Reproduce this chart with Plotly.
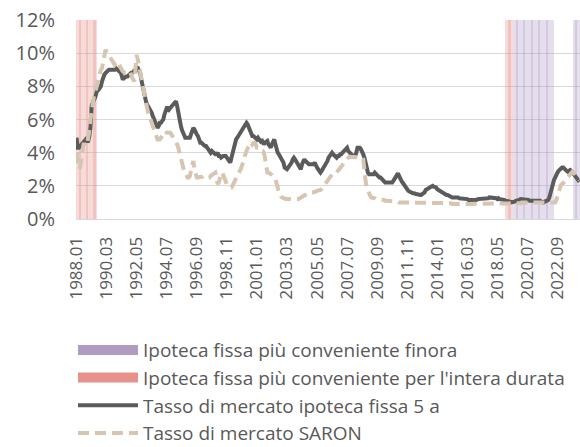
import plotly.graph_objects as go

# ---------------- data ----------------
start_year = 1988
n_months = 436  # 1988.01 .. 2024.04
months = [f"{start_year + i // 12}.{i % 12 + 1:02d}" for i in range(n_months)]

# 5-year fixed mortgage market rate (%), monthly
mortgage_5y = [
    4.9, 4.3, 4.3, 4.4, 4.5, 4.6, 4.7, 4.8, 4.8, 4.7, 4.7, 5.0,      # 1988
    5.5, 6.8, 7.1, 7.2, 7.3, 7.5, 7.8, 7.8, 7.9, 8.0, 8.3, 8.6,      # 1989
    8.7, 8.8, 8.9, 9.0, 9.0, 9.0, 9.0, 9.0, 9.0, 9.0, 9.1, 9.0,      # 1990
    9.0, 8.9, 8.9, 8.5, 8.4, 8.5, 8.6, 8.6, 8.6, 8.7, 8.7, 8.8,      # 1991
    8.8, 8.9, 8.9, 9.0, 9.1, 9.1, 9.0, 8.8, 8.4, 8.0, 7.6, 7.3,      # 1992
    7.1, 6.9, 6.8, 6.6, 6.5, 6.4, 6.2, 6.0, 5.8, 5.6, 5.5, 5.6,      # 1993
    5.8, 5.8, 5.9, 6.0, 6.3, 6.5, 6.7, 6.7, 6.6, 6.7, 6.8, 6.9,      # 1994
    7.0, 7.0, 7.1, 6.8, 6.3, 6.0, 5.7, 5.4, 5.2, 5.0, 4.9, 4.9,      # 1995
    4.9, 4.9, 4.9, 5.1, 5.3, 5.5, 5.4, 5.2, 5.1, 5.0, 4.8, 4.6,      # 1996
    4.6, 4.5, 4.5, 4.4, 4.4, 4.3, 4.2, 4.0, 4.0, 4.1, 4.0, 3.9,      # 1997
    3.9, 3.9, 4.0, 3.8, 3.8, 3.7, 3.8, 3.8, 3.8, 3.8, 3.7, 3.6,      # 1998
    3.5, 3.4, 3.7, 4.0, 4.3, 4.6, 4.8, 4.9, 5.0, 5.2, 5.2, 5.4,      # 1999
    5.5, 5.6, 5.7, 5.8, 5.7, 5.5, 5.3, 5.1, 5.0, 5.0, 4.9, 4.9,      # 2000
    4.8, 4.9, 4.8, 4.7, 4.8, 4.6, 4.5, 4.6, 4.7, 4.7, 4.5, 4.4,      # 2001
    4.3, 4.5, 4.7, 4.8, 4.5, 4.2, 4.0, 3.9, 3.8, 3.7, 3.6, 3.4,      # 2002
    3.1, 3.0, 3.0, 3.1, 3.2, 3.2, 3.4, 3.6, 3.7, 3.6, 3.5, 3.4,      # 2003
    3.2, 3.1, 3.0, 3.3, 3.5, 3.6, 3.5, 3.4, 3.4, 3.3, 3.3, 3.3,      # 2004
    3.3, 3.3, 3.4, 3.2, 3.1, 3.0, 2.9, 2.8, 2.9, 3.0, 3.1, 3.2,      # 2005
    3.4, 3.5, 3.7, 3.8, 3.9, 4.0, 3.9, 3.8, 3.8, 3.7, 3.8, 3.8,      # 2006
    3.9, 3.9, 4.0, 4.1, 4.2, 4.3, 4.3, 4.1, 4.0, 3.9, 3.9, 3.8,      # 2007
    3.8, 3.8, 4.0, 4.3, 4.3, 4.3, 4.2, 4.1, 3.9, 3.7, 3.3, 3.0,      # 2008
    2.8, 2.7, 2.7, 2.65, 2.7, 2.7, 2.8, 2.7, 2.7, 2.6, 2.5, 2.5,     # 2009
    2.4, 2.4, 2.3, 2.2, 2.2, 2.2, 2.2, 2.15, 2.2, 2.2, 2.3, 2.4,     # 2010
    2.6, 2.7, 2.75, 2.6, 2.4, 2.3, 2.2, 2.1, 1.9, 1.8, 1.75, 1.7,   # 2011
    1.65, 1.6, 1.6, 1.55, 1.55, 1.5, 1.5, 1.5, 1.45, 1.45, 1.45, 1.5,  # 2012
    1.55, 1.6, 1.75, 1.8, 1.85, 1.9, 1.95, 2.0, 2.0, 1.95, 1.95, 1.9,  # 2013
    1.8, 1.75, 1.7, 1.65, 1.6, 1.55, 1.5, 1.5, 1.45, 1.45, 1.4, 1.4,   # 2014
    1.35, 1.3, 1.3, 1.3, 1.3, 1.35, 1.3, 1.25, 1.25, 1.2, 1.2, 1.2,    # 2015
    1.2, 1.2, 1.2, 1.15, 1.15, 1.15, 1.1, 1.1, 1.1, 1.1, 1.15, 1.2,    # 2016
    1.2, 1.2, 1.2, 1.2, 1.25, 1.2, 1.2, 1.25, 1.25, 1.3, 1.3, 1.25,    # 2017
    1.3, 1.3, 1.25, 1.25, 1.2, 1.25, 1.2, 1.2, 1.2, 1.15, 1.15, 1.1,   # 2018
    1.1, 1.1, 1.05, 1.05, 1.0, 1.0, 1.0, 1.05, 1.1, 1.1, 1.15, 1.15,   # 2019
    1.2, 1.2, 1.2, 1.15, 1.2, 1.2, 1.15, 1.15, 1.1, 1.1, 1.15, 1.15,   # 2020
    1.15, 1.15, 1.15, 1.1, 1.1, 1.1, 1.05, 1.0, 1.0, 1.05, 1.1, 1.1,   # 2021
    1.15, 1.3, 1.6, 1.9, 2.2, 2.35, 2.5, 2.7, 2.8, 2.9, 3.0, 3.05,     # 2022
    3.1, 3.1, 3.0, 2.9, 2.9, 2.85, 2.9, 2.95, 2.9, 2.8, 2.65, 2.55,    # 2023
    2.45, 2.4, 2.3, 2.25,                                              # 2024
]

# SARON mortgage market rate (%), monthly
saron = [
    4.0, 3.2, 3.0, 3.1, 3.5, 4.0, 4.5, 4.5, 4.4, 4.5, 4.8, 5.3,      # 1988
    6.0, 6.6, 7.2, 7.4, 7.6, 7.9, 8.2, 8.5, 8.9, 9.0, 9.1, 9.5,      # 1989
    10.0, 10.2, 10.1, 10.0, 9.9, 9.8, 9.7, 9.6, 9.4, 9.3, 9.4, 9.5,  # 1990
    9.5, 9.3, 9.1, 9.0, 8.9, 8.8, 8.8, 8.8, 8.9, 8.9, 8.9, 8.7,      # 1991
    8.6, 8.4, 8.3, 9.2, 9.9, 9.6, 9.2, 8.8, 8.4, 8.1, 7.8, 7.4,      # 1992
    7.1, 6.7, 6.4, 6.2, 6.0, 5.8, 5.6, 5.5, 5.3, 5.0, 4.8, 4.8,      # 1993
    4.8, 4.9, 5.0, 5.2, 5.2, 5.3, 5.2, 5.2, 5.2, 5.2, 5.1, 5.0,      # 1994
    4.9, 4.8, 4.6, 4.5, 4.3, 4.0, 3.7, 3.4, 3.1, 2.9, 2.8, 2.6,      # 1995
    2.5, 2.5, 2.6, 2.9, 3.3, 3.5, 3.0, 2.7, 2.5, 2.5, 2.5, 2.5,      # 1996
    2.5, 2.55, 2.6, 2.55, 2.5, 2.5, 2.5, 2.5, 2.6, 2.65, 2.7, 2.75,  # 1997
    2.8, 2.5, 2.1, 2.2, 2.5, 2.7, 2.8, 2.6, 2.4, 2.2, 2.1, 2.0,      # 1998
    1.9, 1.9, 1.9, 2.0, 2.2, 2.3, 2.5, 2.6, 2.7, 2.8, 3.0, 3.2,      # 1999
    3.5, 3.7, 3.9, 4.1, 4.3, 4.5, 4.6, 4.6, 4.5, 4.6, 4.6, 4.5,      # 2000
    4.3, 4.3, 4.2, 4.2, 4.1, 4.1, 4.0, 3.7, 3.2, 2.8, 2.8, 2.7,      # 2001
    2.7, 2.65, 2.6, 2.5, 2.4, 2.2, 1.9, 1.6, 1.45, 1.35, 1.3, 1.25,  # 2002
    1.25, 1.2, 1.2, 1.2, 1.2, 1.15, 1.15, 1.15, 1.15, 1.15, 1.2, 1.2,  # 2003
    1.2, 1.25, 1.3, 1.35, 1.4, 1.45, 1.45, 1.5, 1.5, 1.55, 1.55, 1.6,  # 2004
    1.6, 1.6, 1.65, 1.65, 1.7, 1.7, 1.75, 1.75, 1.8, 1.9, 2.05, 2.2,   # 2005
    2.3, 2.4, 2.5, 2.6, 2.7, 2.75, 2.8, 2.8, 2.8, 2.8, 2.9, 3.0,       # 2006
    3.1, 3.2, 3.25, 3.35, 3.45, 3.6, 3.7, 3.7, 3.75, 3.75, 3.75, 3.75, # 2007
    3.75, 3.75, 3.75, 3.75, 3.75, 3.75, 3.7, 3.7, 3.6, 2.8, 2.3, 1.9,  # 2008
    1.7, 1.5, 1.4, 1.3, 1.3, 1.25, 1.25, 1.2, 1.2, 1.2, 1.2, 1.2,      # 2009
    1.15, 1.15, 1.15, 1.1, 1.1, 1.1, 1.1, 1.1, 1.1, 1.1, 1.1, 1.05,    # 2010
    1.05, 1.05, 1.05, 1.0, 1.0, 1.0, 1.0, 1.0, 0.95, 0.95, 0.95, 0.95, # 2011
    0.95, 1.0, 1.0, 1.0, 0.95, 0.95, 0.95, 0.95, 0.95, 0.95, 0.95, 0.95,  # 2012
    0.95, 0.95, 0.95, 1.0, 1.0, 1.0, 1.0, 0.95, 0.95, 0.95, 0.95, 0.95,   # 2013
    1.0, 1.0, 0.95, 0.95, 0.95, 0.95, 0.95, 0.95, 0.95, 0.95, 0.95, 0.95, # 2014
    0.95, 0.9, 0.9, 0.9, 0.9, 0.9, 0.9, 0.9, 0.9, 0.9, 0.9, 0.9,          # 2015
    0.9, 0.9, 0.9, 0.9, 0.9, 0.9, 0.9, 0.9, 0.9, 0.9, 0.9, 0.9,           # 2016
    0.9, 0.9, 0.9, 0.9, 0.9, 0.9, 0.9, 0.9, 0.9, 0.9, 0.9, 0.9,           # 2017
    0.9, 0.9, 0.9, 0.9, 0.9, 0.9, 0.9, 0.9, 0.9, 0.9, 0.9, 0.9,           # 2018
    0.9, 0.9, 0.9, 0.9, 0.9, 0.9, 0.95, 0.95, 0.95, 0.95, 0.95, 0.95,     # 2019
    0.95, 1.0, 1.0, 1.0, 1.0, 0.95, 0.95, 0.95, 0.95, 0.95, 0.95, 0.95,   # 2020
    1.0, 1.0, 1.0, 1.0, 0.95, 0.95, 0.95, 0.95, 0.95, 0.95, 0.95, 0.95,   # 2021
    0.95, 0.95, 0.95, 0.95, 0.95, 0.95, 1.0, 1.15, 1.4, 1.6, 1.9, 2.05,   # 2022
    2.1, 2.15, 2.25, 2.35, 2.45, 2.55, 2.65, 2.75, 2.8, 2.85, 2.8, 2.7,   # 2023
    2.6, 2.5, 2.4, 2.35,                                                  # 2024
]

# periods (first month, last month) where the fixed mortgage was cheaper
periods_whole_term = [("1988.01", "1989.06"), ("2018.12", "2019.06")]
periods_so_far = [("2019.07", "2022.05"), ("2023.11", "2024.04")]

x_tick_labels = months[::26]
y_tick_values = [0, 2, 4, 6, 8, 10, 12]
y_tick_labels = ["0%", "2%", "4%", "6%", "8%", "10%", "12%"]

names = [
    "Ipoteca fissa più conveniente finora",
    "Ipoteca fissa più conveniente per l'intera durata",
    "Tasso di mercato ipoteca fissa 5 a",
    "Tasso di mercato SARON",
]

# ---------------- build ----------------
def flag_series(periods, level=12):
    out = [None] * len(months)
    for a, b in periods:
        ia, ib = months.index(a), months.index(b)
        for k in range(ia, ib + 1):
            out[k] = level
    return out

TXT = "#595959"
FONT = "Open Sans"
PURPLE = "rgb(176,156,192)"
PINK = "rgb(230,146,139)"

fig = go.Figure()
fig.add_trace(go.Bar(
    x=months, y=flag_series(periods_so_far), name=names[0],
    marker=dict(color="rgba(176,156,196,0.33)", line=dict(width=0)),
    width=1.3, showlegend=False,
))
fig.add_trace(go.Bar(
    x=months, y=flag_series(periods_whole_term), name=names[1],
    marker=dict(color="rgba(232,146,140,0.33)", line=dict(width=0)),
    width=1.3, showlegend=False,
))
# legend keys for the shaded periods
fig.add_trace(go.Scatter(
    x=[months[0]], y=[None], name=names[0], mode="lines",
    line=dict(color=PURPLE, width=10), legendgroup="a",
))
fig.add_trace(go.Scatter(
    x=[months[0]], y=[None], name=names[1], mode="lines",
    line=dict(color=PINK, width=10), legendgroup="b",
))
fig.add_trace(go.Scatter(
    x=months, y=mortgage_5y, name=names[2], mode="lines",
    line=dict(color="#5B5B5B", width=4), legendgroup="c",
))
fig.add_trace(go.Scatter(
    x=months, y=saron, name=names[3], mode="lines",
    line=dict(color="#D5C5B1", width=4, dash="11px,6px"), legendgroup="d",
))

fig.update_layout(
    width=580, height=447,
    margin=dict(l=76, r=0, t=20, b=228, autoexpand=False),
    paper_bgcolor="white", plot_bgcolor="white",
    font=dict(family=FONT, color=TXT, size=18),
    barmode="overlay", bargap=0,
    showlegend=True,
    legend=dict(
        x=-0.006, xanchor="left", y=-0.563, yanchor="top",
        font=dict(size=19, color=TXT),
        itemwidth=60, tracegroupgap=0, traceorder="grouped",
        bgcolor="rgba(0,0,0,0)",
    ),
)
fig.update_xaxes(
    type="category", range=[-0.5, n_months - 0.5], automargin=False,
    tickmode="array", tickvals=x_tick_labels, ticktext=x_tick_labels,
    tickangle=-90, tickfont=dict(size=17, color=TXT),
    showgrid=False, showline=True, linecolor="#D9D9D9", linewidth=1,
    ticks="", ticklabelstandoff=10, zeroline=False,
)
fig.update_yaxes(
    range=[0, 12], automargin=False,
    tickmode="array", tickvals=y_tick_values, ticktext=y_tick_labels,
    tickfont=dict(size=20, color=TXT),
    showgrid=True, gridcolor="#D9D9D9", gridwidth=1,
    zeroline=False, showline=False, ticks="", ticklabelstandoff=20,
)

fig.write_html(
    "out.html",
    config={"displayModeBar": False},
    post_script="document.body.style.margin='0px';document.body.style.overflow='hidden';",
)
